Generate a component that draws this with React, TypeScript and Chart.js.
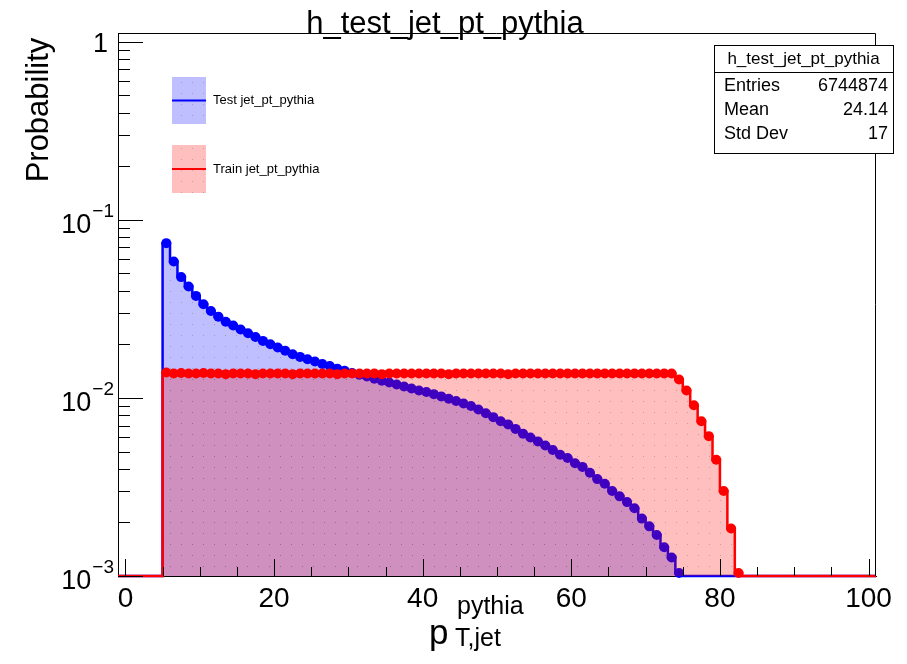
import { useEffect, useRef } from 'react';
import { Chart, registerables } from 'chart.js';

Chart.register(...registerables);

// ---- texts ----
const CHART_TITLE = 'h_test_jet_pt_pythia';
const Y_TITLE = 'Probability';
const X_TITLE_MAIN = 'p';
const X_TITLE_SUP = 'pythia';
const X_TITLE_SUB = 'T,jet';
const SERIES_NAMES = ['Test jet_pt_pythia', 'Train jet_pt_pythia'];
const STATS_TITLE = 'h_test_jet_pt_pythia';
const STATS_LABELS = ['Entries', 'Mean', 'Std Dev'];
const STATS_VALUES = ['6744874', '24.14', '17'];

// ---- axes ----
const X_MIN = -1;
const X_MAX = 101;
const Y_MIN = 0.001;
const Y_MAX = 1.12;
const X_LABEL_TICKS = [0, 20, 40, 60, 80, 100];
const X_MINOR_TICKS = [0, 5, 10, 15, 20, 25, 30, 35, 40, 45, 50, 55, 60, 65, 70, 75, 80, 85, 90, 95, 100];
const Y_DECADES = [0.001, 0.01, 0.1, 1];
const Y_DECADE_LABELS: [string, string][] = [['10', '\u22123'], ['10', '\u22122'], ['10', '\u22121'], ['1', '']];
const Y_MINOR_MULTIPLIERS = [2, 3, 4, 5, 6, 7, 8, 9];

// ---- histogram bins (width 1, first filled bin starts at 5) ----
const BIN_START = 5;
const BIN_WIDTH = 1;

// Test (blue) bin contents, bins 5-6 ... 74-75
const testValues = [
  0.0740, 0.0583, 0.0477, 0.0422, 0.0374, 0.0336, 0.0308, 0.0286, 0.0268, 0.0255,
  0.0242, 0.0231, 0.0220, 0.0209, 0.0200, 0.0192, 0.0184, 0.0176, 0.0170, 0.0165,
  0.0160, 0.0155, 0.0151, 0.0146, 0.0142, 0.0138, 0.0135, 0.0132, 0.0128, 0.0125,
  0.0122, 0.0119, 0.0116, 0.0113, 0.0110, 0.0108, 0.0105, 0.0102, 0.0099, 0.0096,
  0.0093, 0.0090, 0.0086, 0.0082, 0.0078, 0.0074, 0.0071, 0.0067, 0.0063, 0.0060,
  0.0057, 0.0054, 0.0051, 0.0048, 0.0046, 0.0043, 0.0041, 0.0038, 0.0035, 0.0033,
  0.0030, 0.0028, 0.0026, 0.0024, 0.0021, 0.0019, 0.0017, 0.00145, 0.00127, 0.00104,
];

// Train (red) bin contents, bins 5-6 ... 82-83
const trainValues = [
  0.0139, 0.0137, 0.0138, 0.0137, 0.0137, 0.0138, 0.0137, 0.0137, 0.0136, 0.0137,
  0.0137, 0.0137, 0.0136, 0.0137, 0.0137, 0.0137, 0.0137, 0.0136, 0.0137, 0.0137,
  0.0137, 0.0137, 0.0137, 0.0136, 0.0137, 0.0137, 0.0137, 0.0137, 0.0137, 0.0136,
  0.0137, 0.0137, 0.0137, 0.0137, 0.0137, 0.0137, 0.0137, 0.0137, 0.0136, 0.0137,
  0.0137, 0.0137, 0.0137, 0.0137, 0.0137, 0.0137, 0.0136, 0.0137, 0.0137, 0.0137,
  0.0137, 0.0137, 0.0137, 0.0137, 0.0137, 0.0137, 0.0137, 0.0137, 0.0137, 0.0137,
  0.0137, 0.0137, 0.0137, 0.0137, 0.0137, 0.0137, 0.0137, 0.0137, 0.0137,
  0.0127, 0.0110, 0.0091, 0.0074, 0.0061, 0.0045, 0.0030, 0.00185, 0.00104,
];

const BLUE = '#0000ff';
const RED = '#ff0000';
const BLUE_FILL = 'rgba(0,0,255,0.25)';
const RED_FILL = 'rgba(255,0,0,0.25)';
const FONT = '"Liberation Sans", Arial, Helvetica, sans-serif';

function dottedFill(color: string): CanvasPattern | string {
  const tile = document.createElement('canvas');
  tile.width = 11;
  tile.height = 11;
  const c = tile.getContext('2d');
  if (!c) return color;
  c.fillStyle = color;
  c.fillRect(0, 0, 11, 11);
  c.fillStyle = 'rgba(90,90,90,0.35)';
  c.fillRect(5, 5, 1, 1);
  const ctx = document.createElement('canvas').getContext('2d');
  const p = ctx ? ctx.createPattern(tile, 'repeat') : null;
  return p || color;
}

function histOutline(values: number[]) {
  const pts: { x: number; y: number }[] = [{ x: X_MIN, y: Y_MIN }];
  values.forEach((v, i) => pts.push({ x: BIN_START + i * BIN_WIDTH, y: Math.max(v, Y_MIN) }));
  pts.push({ x: BIN_START + values.length * BIN_WIDTH, y: Y_MIN });
  pts.push({ x: X_MAX, y: Y_MIN });
  return pts;
}

function binMarkers(values: number[]) {
  return values.map((v, i) => ({ x: BIN_START + (i + 0.5) * BIN_WIDTH, y: v }));
}

const decorPlugin = {
  id: 'decor',
  afterDatasetsDraw(chart: any) {
    const { ctx, chartArea: a, scales } = chart;
    const xs = scales.x;
    const ys = scales.y;
    ctx.save();
    ctx.strokeStyle = '#000';
    ctx.lineWidth = 1;
    ctx.beginPath();
    ctx.moveTo(a.left, Math.round(a.top) + 0.5);
    ctx.lineTo(Math.round(a.right) - 0.5, Math.round(a.top) + 0.5);
    ctx.lineTo(Math.round(a.right) - 0.5, a.bottom);
    ctx.stroke();
    X_MINOR_TICKS.forEach((v) => {
      const px = Math.round(xs.getPixelForValue(v)) + 0.5;
      const len = X_LABEL_TICKS.includes(v) ? 17 : 9;
      ctx.beginPath();
      ctx.moveTo(px, a.bottom);
      ctx.lineTo(px, a.bottom - len);
      ctx.stroke();
    });
    Y_DECADES.forEach((d) => {
      const py = Math.round(ys.getPixelForValue(d)) + 0.5;
      ctx.beginPath();
      ctx.moveTo(a.left, py);
      ctx.lineTo(a.left + 25, py);
      ctx.stroke();
      Y_MINOR_MULTIPLIERS.forEach((m) => {
        const v = d * m;
        if (v > Y_MAX) return;
        const pm = Math.round(ys.getPixelForValue(v)) + 0.5;
        ctx.beginPath();
        ctx.moveTo(a.left, pm);
        ctx.lineTo(a.left + 12, pm);
        ctx.stroke();
      });
    });
    ctx.restore();
  },
  afterDraw(chart: any) {
    const { ctx, chartArea: a, scales } = chart;
    const ys = scales.y;
    ctx.save();
    ctx.fillStyle = '#000';

    // y tick labels
    const right = a.left - 4;
    Y_DECADES.forEach((d, i) => {
      const py = ys.getPixelForValue(d);
      const [base, exp] = Y_DECADE_LABELS[i];
      ctx.textBaseline = 'middle';
      if (!exp) {
        ctx.font = `27px ${FONT}`;
        ctx.textAlign = 'right';
        ctx.fillText(base, right - 6, py + 3);
      } else {
        ctx.font = `19px ${FONT}`;
        const ew = ctx.measureText(exp).width;
        ctx.textAlign = 'left';
        ctx.fillText(exp, right - ew, py - 8);
        ctx.font = `27px ${FONT}`;
        const bw = ctx.measureText(base).width;
        ctx.fillText(base, right - ew - bw - 1, py + 6);
      }
    });

    // title
    ctx.font = `31px ${FONT}`;
    ctx.textAlign = 'center';
    ctx.textBaseline = 'alphabetic';
    ctx.fillText(CHART_TITLE, 445, 33);

    // y title
    ctx.save();
    ctx.translate(48, 110);
    ctx.rotate(-Math.PI / 2);
    ctx.font = `31px ${FONT}`;
    ctx.textAlign = 'center';
    ctx.textBaseline = 'alphabetic';
    ctx.fillText(Y_TITLE, 0, 0);
    ctx.restore();

    // x title p_{T,jet}^{pythia}
    ctx.textAlign = 'left';
    ctx.textBaseline = 'alphabetic';
    ctx.font = `35px ${FONT}`;
    ctx.fillText(X_TITLE_MAIN, 429, 644);
    ctx.font = `25px ${FONT}`;
    ctx.fillText(X_TITLE_SUP, 457, 614);
    ctx.fillText(X_TITLE_SUB, 455, 646);

    // legend
    const legendRows = [
      { name: SERIES_NAMES[0], fill: BLUE_FILL, line: BLUE, top: 77, bottom: 124 },
      { name: SERIES_NAMES[1], fill: RED_FILL, line: RED, top: 145, bottom: 193 },
    ];
    legendRows.forEach((r) => {
      ctx.fillStyle = dottedFill(r.fill);
      ctx.fillRect(172, r.top, 34, r.bottom - r.top);
      const mid = (r.top + r.bottom) / 2;
      ctx.strokeStyle = r.line;
      ctx.lineWidth = 2;
      ctx.beginPath();
      ctx.moveTo(172, mid);
      ctx.lineTo(206, mid);
      ctx.stroke();
      ctx.fillStyle = '#000';
      ctx.font = `13px ${FONT}`;
      ctx.textAlign = 'left';
      ctx.textBaseline = 'middle';
      ctx.fillText(r.name, 213, mid);
    });

    // stats box
    const bx = 714, by = 45, bw = 179, bh = 108;
    ctx.fillStyle = '#fff';
    ctx.fillRect(bx, by, bw, bh);
    ctx.strokeStyle = '#000';
    ctx.lineWidth = 1;
    ctx.strokeRect(bx + 0.5, by + 0.5, bw, bh);
    ctx.beginPath();
    ctx.moveTo(bx, 72.5);
    ctx.lineTo(bx + bw, 72.5);
    ctx.stroke();
    ctx.fillStyle = '#000';
    ctx.font = `17px ${FONT}`;
    ctx.textAlign = 'center';
    ctx.textBaseline = 'middle';
    ctx.fillText(STATS_TITLE, bx + bw / 2, 59);
    ctx.font = `18px ${FONT}`;
    STATS_LABELS.forEach((lab, i) => {
      const yy = 86 + i * 24;
      ctx.textAlign = 'left';
      ctx.fillText(lab, bx + 10, yy);
      ctx.textAlign = 'right';
      ctx.fillText(STATS_VALUES[i], bx + bw - 5, yy);
    });
    ctx.restore();
  },
};

export default function App() {
  const canvasRef = useRef<HTMLCanvasElement | null>(null);

  useEffect(() => {
    document.body.style.margin = '0';
    const canvas = canvasRef.current;
    if (!canvas) return;
    const chart = new Chart(canvas, {
      type: 'line',
      data: {
        datasets: [
          {
            label: SERIES_NAMES[0],
            data: histOutline(testValues),
            stepped: 'before',
            borderColor: BLUE,
            borderWidth: 2.5,
            backgroundColor: dottedFill(BLUE_FILL),
            fill: 'start',
            pointRadius: 0,
            order: 4,
            clip: 2,
          },
          {
            label: SERIES_NAMES[0] + ' markers',
            data: binMarkers(testValues),
            showLine: false,
            pointRadius: 5,
            pointBorderWidth: 0,
            pointBackgroundColor: BLUE,
            borderColor: BLUE,
            order: 3,
            clip: 6,
          },
          {
            label: SERIES_NAMES[1],
            data: histOutline(trainValues),
            stepped: 'before',
            borderColor: RED,
            borderWidth: 2.5,
            backgroundColor: dottedFill(RED_FILL),
            fill: 'start',
            pointRadius: 0,
            order: 2,
            clip: 2,
          },
          {
            label: SERIES_NAMES[1] + ' markers',
            data: binMarkers(trainValues),
            showLine: false,
            pointRadius: 5,
            pointBorderWidth: 0,
            pointBackgroundColor: RED,
            borderColor: RED,
            order: 1,
            clip: 6,
          },
        ],
      },
      options: {
        animation: false,
        responsive: false,
        devicePixelRatio: 1,
        events: [],
        layout: { padding: { top: 33, right: 31, left: 0, bottom: 0 } },
        plugins: {
          legend: { display: false },
          tooltip: { enabled: false },
          title: { display: false },
        },
        scales: {
          x: {
            type: 'linear',
            min: X_MIN,
            max: X_MAX,
            afterBuildTicks: (s: any) => {
              s.ticks = X_LABEL_TICKS.map((v) => ({ value: v }));
            },
            afterFit: (s: any) => {
              s.height = 88;
            },
            ticks: {
              autoSkip: false,
              maxRotation: 0,
              padding: 6,
              color: '#000',
              font: { family: FONT, size: 28 },
              callback: (v: any) => String(v),
            },
            grid: { display: false, drawTicks: false },
            border: { display: true, color: '#000', width: 1 },
          },
          y: {
            type: 'logarithmic',
            min: Y_MIN,
            max: Y_MAX,
            afterBuildTicks: (s: any) => {
              s.ticks = Y_DECADES.map((v) => ({ value: v }));
            },
            afterFit: (s: any) => {
              s.width = 118;
            },
            ticks: { display: false },
            grid: { display: false, drawTicks: false },
            border: { display: true, color: '#000', width: 1 },
          },
        },
      },
      plugins: [decorPlugin],
    } as any);
    return () => chart.destroy();
  }, []);

  return (
    <div style={{ width: 907, height: 664 }}>
      <canvas ref={canvasRef} width={907} height={664} style={{ display: 'block' }} />
    </div>
  );
}
